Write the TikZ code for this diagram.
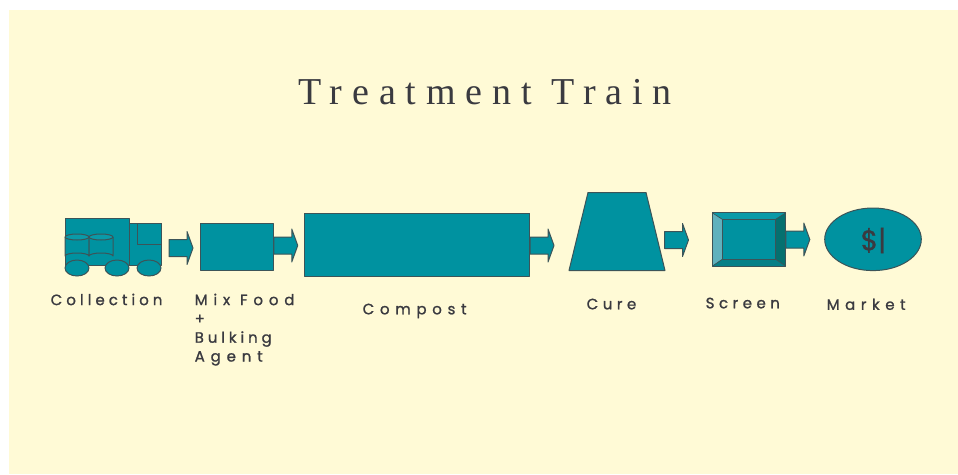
\documentclass[tikz,border=0pt]{standalone}
\usepackage{fontspec}
\usetikzlibrary{calc,positioning,shapes.geometric}
\setmainfont{Liberation Serif}
\newfontfamily\titlefont[LetterSpace=26]{Liberation Serif}
\newfontfamily\labelfont[FakeBold=1.2]{Poppins}
\definecolor{TTpaper}{HTML}{FFFAD6}
\definecolor{TTteal}{HTML}{0092A0}
\definecolor{TTline}{HTML}{3C5458}
\definecolor{TTink}{HTML}{3A3A40}
\definecolor{TTlight}{HTML}{5FB1BD}
\definecolor{TTtop}{HTML}{0A9AA8}
\definecolor{TTright}{HTML}{05706F}
\definecolor{TTbottom}{HTML}{067F87}
\newcommand{\pipearrow}[1]{%
  \draw[pipe] (#1) ++(0,-8.5) -- ++(18,0) -- ++(0,-8) -- ++(6,16.5)
    -- ++(-6,16.5) -- ++(0,-8) -- ++(-18,0) -- cycle;}
\newcommand{\barrel}[2]{%
  \begin{scope}[shift={(#1,#2)}]
    \draw[part] (-12,0) -- (-12,19) arc (180:360:12 and 3) -- (12,0);
    \draw[part,fill=TTtop] (0,0) ellipse (12 and 3);
  \end{scope}}
\begin{document}
\begin{tikzpicture}[
  x=1pt,y=-1pt,
  line join=round,
  part/.style={draw=TTline,line width=1pt,fill=TTteal},
  pipe/.style={part},
  heading/.style={font=\titlefont\fontsize{38}{38}\selectfont,text=TTink},
  caption/.style={font=\labelfont\fontsize{15}{18.8}\selectfont\addfontfeature{LetterSpace=#1},
    text=TTink,align=left,inner sep=0pt,anchor=north west}
]
\useasboundingbox (0,0) rectangle (958,474);
\fill[TTpaper] (9,10) rectangle (958,474);

\node[heading] (title) at (485,92) {Treatment Train};

% truck: box, cab, window, two barrels, wheels
\node[part,inner sep=0pt,minimum width=64pt,minimum height=47pt] (truck) at (97,241.5) {};
\node[part,inner sep=0pt,minimum width=32pt,minimum height=42pt] (cab) at (145,244) {};
\node[part,inner sep=0pt,minimum width=24pt,minimum height=21pt] (window) at (149,233.5) {};
\barrel{77}{237}
\barrel{101}{237}
\foreach \name/\xx in {wheela/77,wheelb/117,wheelc/149}{
  \draw[part] (\xx,268) ellipse (12 and 8);
  \coordinate (\name) at (\xx,268);
}

\node[part,inner sep=0pt,minimum width=72.5pt,minimum height=47pt] (mix) at (237,247.2) {};
\node[part,inner sep=0pt,minimum width=225pt,minimum height=63pt] (compost) at (417,244.5) {};
\draw[part] (588,192.5) coordinate (cure) -- (646,192.5) -- (665,270.5) -- (569,270.5) -- cycle;

% screen: bevelled frame
\node[part,inner sep=0pt,minimum width=72.6pt,minimum height=52.4pt] (screen) at (749,239.5) {};
\fill[TTtop] (screen.north west) -- (screen.north east) -- (775.7,219.3) -- (722.3,219.3) -- cycle;
\fill[TTlight] (screen.north west) -- (722.3,219.3) -- (722.3,259.3) -- (screen.south west) -- cycle;
\fill[TTright] (screen.north east) -- (775.7,219.3) -- (775.7,259.3) -- (screen.south east) -- cycle;
\fill[TTbottom] (screen.south west) -- (722.3,259.3) -- (775.7,259.3) -- (screen.south east) -- cycle;
\draw[draw=TTline,line width=1pt] (screen.north west) rectangle (screen.south east);
\draw[draw=TTline,line width=0.7pt] (722.3,219.3) rectangle (775.7,259.3);
\foreach \ca/\cb in {north west/{722.3,219.3},north east/{775.7,219.3},south west/{722.3,259.3},south east/{775.7,259.3}}{
  \draw[draw=TTline,line width=0.7pt] (screen.\ca) -- (\cb);
}

\node[part,ellipse,inner sep=0pt,minimum width=96.6pt,minimum height=62.6pt] (market) at (873,239.3) {};
\node[font=\labelfont\fontsize{28}{28}\selectfont,text=TTink,inner sep=0pt] (dollar) at (873.5,240.5) {\$|};

% tails of the block arrows
\coordinate (truckout) at ([xshift=7.5pt,yshift=-4pt]cab.east);
\coordinate (mixout) at ([yshift=1.7pt]mix.east);
\coordinate (compostout) at ([yshift=-1pt]compost.east);
\coordinate (cureout) at ($(cure)+(76.5,47.5)$);
\coordinate (screenout) at (screen.east);
\foreach \tail in {truckout,mixout,compostout,cureout,screenout}{\pipearrow{\tail}}

\node[caption=27] (lblcollect) at (50.5,293.5) {Collection};
\node[caption=39] (lblmix) at (194.5,293.5) {Mix Food\\+\\{\addfontfeature{LetterSpace=26}Bulking}\\Agent};
\node[caption=38] (lblcompost) at (362.5,303.5) {Compost};
\node[caption=30] (lblcure) at (586.5,298.5) {Cure};
\node[caption=30] (lblscreen) at (705.5,297.5) {Screen};
\node[caption=37] (lblmarket) at (826.5,298.5) {Market};
\end{tikzpicture}
\end{document}
